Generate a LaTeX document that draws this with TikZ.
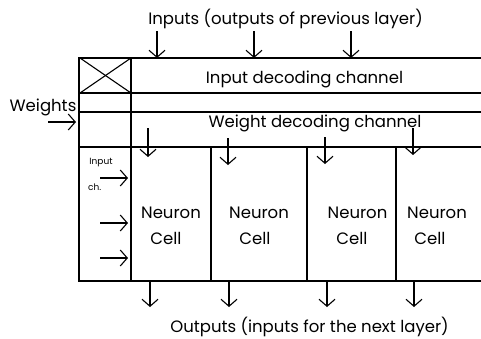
\documentclass[tikz,border=0pt]{standalone}
\usepackage{fontspec}
\setmainfont{Poppins}
\usetikzlibrary{arrows.meta}
\newcommand{\lbltext}{\fontsize{16.5}{19}\selectfont}
\newcommand{\smalltext}{\fontsize{9}{11}\selectfont}
\begin{document}
\begin{tikzpicture}[x=1pt,y=-1pt,
  rule/.style={line width=1.1pt},
  heavy/.style={line width=2.4pt},
  arr/.style={line width=1.1pt,-{Straight Barb[length=7pt,width=16pt,line width=1.1pt]}},
  lbl/.style={font=\lbltext, inner sep=0pt, anchor=base},
]
\useasboundingbox (0,0) rectangle (481,338);
% channel lines
\draw[rule] (78,58) -- (481,58);
\draw[rule] (78,93) -- (481,93);
\draw[rule] (78,112) -- (481,112);
\draw[rule] (78,147) -- (481,147);
\draw[rule] (131,281) -- (481,281);
\draw[heavy] (79,57) -- (79,281) -- (131,281);
\draw[rule] (131,58) -- (131,281);
\draw[rule] (80,58) -- (131,93);
\draw[rule] (80,93) -- (131,58);
% cell separators
\foreach \x in {211,307,396} \draw[rule] (\x,147) -- (\x,281);

% texts
\node[lbl] (tin) at (285.5,24) {Inputs (outputs of previous layer)};
\node[lbl] (idc) at (304.5,83) {Input decoding channel};
\node[lbl] (wdc) at (315,127) {Weight decoding channel};
\node[lbl] (tout) at (309.5,332) {Outputs (inputs for the next layer)};
\node[lbl] (wts) at (43,111) {Weights};
\node[font=\smalltext, inner sep=0pt, anchor=base] (ich1) at (101,164) {Input};
\node[font=\smalltext, inner sep=0pt, anchor=base west] (ich2) at (88,190) {ch.};
\node[lbl] (n1) at (171,218) {Neuron};
\node[lbl] (c1) at (166,244) {Cell};
\node[lbl] (n2) at (259,218) {Neuron};
\node[lbl] (c2) at (255,244) {Cell};
\node[lbl] (n3) at (357.5,218) {Neuron};
\node[lbl] (c3) at (352,244) {Cell};
\node[lbl] (n4) at (437,218) {Neuron};
\node[lbl] (c4) at (430,244) {Cell};

% arrow end points
\foreach \i/\x in {1/157,2/254,3/351} {
  \coordinate (ta\i) at (\x,31);
  \coordinate (tb\i) at (\x,58);
  \draw[arr] (ta\i) -- (tb\i);
}
\foreach \i/\x/\ya/\yb in {1/148/128/157,2/228/138/165,3/325/137/164,4/413/128/155} {
  \coordinate (wa\i) at (\x,\ya);
  \coordinate (wb\i) at (\x,\yb);
  \draw[arr] (wa\i) -- (wb\i);
}
\foreach \i/\x in {1/150,2/229,3/327,4/414} {
  \coordinate (oa\i) at (\x,282);
  \coordinate (ob\i) at (\x,307);
  \draw[arr] (oa\i) -- (ob\i);
}
\coordinate (wia) at (48,122);
\coordinate (wib) at (76,122);
\draw[arr] (wia) -- (wib);
\foreach \i/\y in {1/178,2/223,3/258} {
  \coordinate (ia\i) at (100,\y);
  \coordinate (ib\i) at (128,\y);
  \draw[arr] (ia\i) -- (ib\i);
}
\end{tikzpicture}
\end{document}
